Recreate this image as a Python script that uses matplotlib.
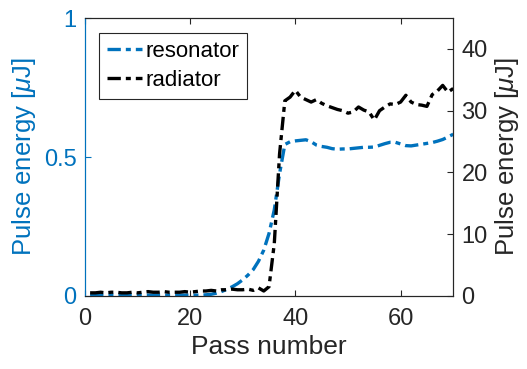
import matplotlib
matplotlib.use('Agg')
import matplotlib.pyplot as plt

plt.rcParams['font.family'] = ['Liberation Sans', 'DejaVu Sans']
plt.rcParams['mathtext.fontset'] = 'custom'
plt.rcParams['mathtext.it'] = 'Liberation Sans:italic'

BLUE = '#0072BD'
DARK = '#262626'

passes = list(range(1, 71))

resonator = [0.003] * 22 + [
    0.004, 0.006, 0.010, 0.016, 0.024, 0.033, 0.044, 0.058,
    0.075, 0.095, 0.125, 0.165, 0.225, 0.31, 0.44, 0.545, 0.555, 0.558,
    0.560, 0.562, 0.555, 0.543, 0.538, 0.535, 0.530, 0.528, 0.529, 0.529,
    0.531, 0.533, 0.535, 0.535, 0.536, 0.542, 0.548, 0.553, 0.553, 0.547,
    0.541, 0.540, 0.543, 0.546, 0.549, 0.552, 0.557, 0.563, 0.572, 0.582]

radiator = [
    0.5, 0.5, 0.6, 0.5, 0.6, 0.6, 0.5, 0.5, 0.6, 0.5,
    0.6, 0.7, 0.6, 0.6, 0.7, 0.6, 0.6, 0.6, 0.7, 0.6,
    0.7, 0.8, 0.8, 0.9, 0.8, 1.0, 1.0, 1.1, 1.0, 1.0,
    1.1, 0.9, 1.3, 0.8, 1.5, 8.5, 23.0, 31.6, 32.2, 33.3,
    32.2, 31.8, 31.4, 31.8, 31.2, 30.8, 30.5, 30.2, 30.0, 29.6,
    29.8, 30.6, 30.1, 29.8, 28.5, 30.0, 30.6, 31.1, 31.0, 31.4,
    32.5, 31.4, 31.0, 30.9, 30.7, 32.6, 33.2, 34.1, 33.0, 33.6]

fig = plt.figure(figsize=(5.27, 3.69), dpi=100)
ax = fig.add_axes([0.161, 0.198, 0.699, 0.753])
ax2 = ax.twinx()

dash = (0, (4, 1.5, 1.5, 1.5))
l1, = ax.plot(passes, resonator, color=BLUE, lw=2.4, linestyle=dash, label='resonator')
l2, = ax2.plot(passes, radiator, color='black', lw=2.4, linestyle=dash, label='radiator')

ax.set_xlim(0, 70)
ax.set_ylim(0, 1)
ax2.set_ylim(0, 45)
ax.set_xticks([0, 20, 40, 60])
ax.set_yticks([0, 0.5, 1])
ax.set_yticklabels(['0', '0.5', '1'])
ax2.set_yticks([0, 10, 20, 30, 40])

ax.tick_params(axis='x', direction='in', top=True, labelsize=17, colors=DARK, length=4, pad=9)
ax.tick_params(axis='y', direction='in', labelsize=17, colors=BLUE, length=4, pad=6)
ax2.tick_params(axis='y', direction='in', labelsize=17, colors=DARK, length=4, pad=6)

for a in (ax, ax2):
    for s in a.spines.values():
        s.set_linewidth(0.8)
        s.set_color(DARK)
ax2.spines['left'].set_color(BLUE)
ax.spines['left'].set_color(BLUE)

ax.set_xlabel('Pass number', fontsize=19, color=DARK, labelpad=3)
ax.set_ylabel(r'Pulse energy [$\mu$J]', fontsize=18.5, color=BLUE, labelpad=4)
ax2.set_ylabel(r'Pulse energy [$\mu$J]', fontsize=18.5, color=DARK, labelpad=4)

leg = ax2.legend([l1, l2], ['resonator', 'radiator'], loc='upper left', fontsize=16,
                 fancybox=False, framealpha=1, edgecolor=DARK, handlelength=1.6,
                 handletextpad=0.15, borderpad=0.35, labelspacing=0.35,
                 borderaxespad=0, bbox_to_anchor=(0.038, 0.945))
leg.get_frame().set_linewidth(0.8)

fig.savefig('out.png', dpi=100)
